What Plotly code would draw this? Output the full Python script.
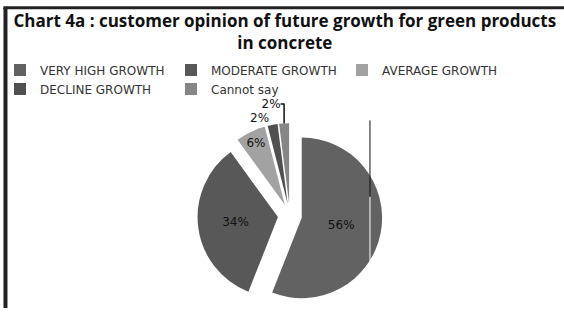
import plotly.graph_objects as go

labels = ["VERY HIGH GROWTH", "MODERATE GROWTH", "AVERAGE GROWTH", "DECLINE GROWTH", "Cannot say"]
values = [56, 34, 6, 2, 2]
colors = ["#626262", "#585858", "#a2a2a2", "#505050", "#868686"]
title_text = "<b>Chart 4a : customer opinion of future growth for green products<br>in concrete</b>"

fig = go.Figure(go.Pie(
    labels=labels,
    values=values,
    sort=False,
    direction="clockwise",
    rotation=0,
    pull=[0.15, 0.15, 0.15, 0.15, 0.15],
    marker=dict(colors=colors, line=dict(width=0)),
    texttemplate="%{percent:.0%}",
    textposition=["inside", "inside", "inside", "outside", "outside"],
    insidetextorientation="horizontal",
    textfont=dict(family="DejaVu Sans", size=12, color="#111"),
    domain=dict(x=[0.330, 0.698], y=[0.0, 0.60]),
    hoverinfo="label+percent",
))

fig.update_layout(
    width=564, height=327,
    margin=dict(l=0, r=0, t=0, b=0),
    paper_bgcolor="white",
    plot_bgcolor="white",
    title=dict(text=title_text, x=0.505, xanchor="center", y=0.917, yanchor="top",
               font=dict(family="Open Sans", size=17, color="#111")),
    legend=dict(orientation="h", x=0.0, xanchor="left", y=0.82, yanchor="top",
                entrywidth=126, entrywidthmode="pixels",
                font=dict(family="DejaVu Sans", size=12, color="#333"),
                bgcolor="rgba(0,0,0,0)"),
    shapes=[
        dict(type="line", xref="paper", yref="paper", x0=0.0097, x1=0.0097, y0=0, y1=0.975,
             line=dict(color="#222", width=4)),
        dict(type="line", xref="paper", yref="paper", x0=0.006, x1=1, y0=0.975, y1=0.975,
             line=dict(color="#222", width=3)),
        dict(type="line", xref="paper", yref="paper", x0=0.656, x1=0.656, y0=0.609, y1=0.361,
             line=dict(color="#111", width=1)),
        dict(type="line", xref="paper", yref="paper", x0=0.656, x1=0.656, y0=0.361, y1=0.043,
             line=dict(color="white", width=1)),
    ],
)

fig.write_html("out.html")
